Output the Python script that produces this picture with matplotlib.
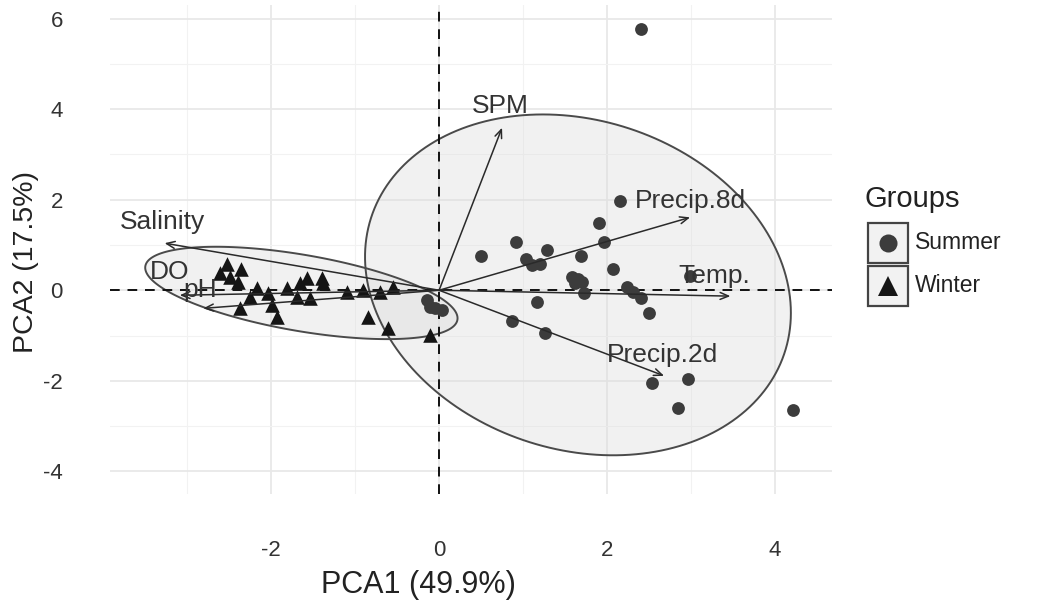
import numpy as np
import matplotlib
matplotlib.use("Agg")
import matplotlib.pyplot as plt
from matplotlib.patches import Polygon, Rectangle
from matplotlib.lines import Line2D

plt.rcParams['font.family'] = ['Liberation Sans', 'DejaVu Sans']

# ---------------- data ----------------
summer_x = [2.40, 2.16, 1.91, 0.92, 1.97, 0.50, 1.29, 1.03, 1.11, 1.20, 1.69, 2.07, 2.99,
            1.58, 1.65, 1.70, 1.62, 1.73, 2.24, 2.31, 2.41, 2.50, 1.17, 0.87, 1.26,
            -0.14, -0.11, -0.05, 0.04, 2.53, 2.97, 2.84, 4.22]
summer_y = [5.77, 1.98, 1.48, 1.06, 1.06, 0.75, 0.90, 0.70, 0.55, 0.57, 0.75, 0.46, 0.31,
            0.30, 0.25, 0.18, 0.15, -0.07, 0.07, -0.04, -0.18, -0.51, -0.26, -0.68, -0.95,
            -0.22, -0.37, -0.40, -0.44, -2.05, -1.96, -2.60, -2.64]

winter_x = [-2.53, -2.36, -2.61, -2.49, -2.40, -2.17, -2.25, -2.04, -2.37, -1.99, -1.93,
            -1.81, -1.66, -1.57, -1.39, -1.38, -1.69, -1.54, -1.10, -0.91, -0.70, -0.55,
            -0.85, -0.61, -0.11]
winter_y = [0.59, 0.48, 0.37, 0.29, 0.18, 0.04, -0.15, -0.07, -0.40, -0.33, -0.59,
            0.04, 0.15, 0.26, 0.26, 0.15, -0.15, -0.18, -0.04, 0.00, -0.04, 0.07,
            -0.59, -0.84, -0.99]

var_names = ['SPM', 'Precip.8d', 'Temp.', 'Precip.2d', 'Salinity', 'DO', 'pH']
var_x = [0.75, 2.99, 3.47, 2.68, -3.27, -3.09, -2.81]
var_y = [3.59, 1.61, -0.13, -1.89, 1.04, -0.11, -0.40]
lab_x = [0.73, 2.99, 3.28, 2.66, -3.29, -3.21, -2.85]
lab_y = [4.07, 1.98, 0.31, -1.43, 1.50, 0.40, 0.00]

groups = ['Summer', 'Winter']
x_ticks = [-2, 0, 2, 4]
y_ticks = [-4, -2, 0, 2, 4, 6]


def norm_ellipse(x, y, level=0.95, npts=200):
    x = np.asarray(x); y = np.asarray(y)
    n = len(x)
    cov = np.cov(x, y)
    c = np.array([x.mean(), y.mean()])
    d = n - 1
    fq = d / 2.0 * ((1 - level) ** (-2.0 / d) - 1)  # F(2, d) quantile
    r = np.sqrt(2 * fq)
    L = np.linalg.cholesky(cov)
    t = np.linspace(0, 2 * np.pi, npts)
    circ = np.vstack([np.cos(t), np.sin(t)])
    pts = c[:, None] + r * (L @ circ)
    return pts.T


W, H = 1051, 610
fig = plt.figure(figsize=(W / 100, H / 100), dpi=100)
fig.patch.set_facecolor('white')
ax = fig.add_axes([110 / W, 1 - 494 / H, 722 / W, 489 / H])
ax.set_xlim(-3.92, 4.68)
ax.set_ylim(-4.5, 6.3)
ax.set_facecolor('white')
for s in ax.spines.values():
    s.set_visible(False)

ax.set_xticks(x_ticks)
ax.set_xticklabels([str(v) for v in x_ticks])
ax.set_yticks(y_ticks)
ax.set_yticklabels([str(v) for v in y_ticks])
ax.set_xticks([-3, -1, 1, 3], minor=True)
ax.set_yticks([-3, -1, 1, 3, 5], minor=True)
ax.grid(True, which='major', color='#e8e8e8', lw=1.3)
ax.grid(True, which='minor', color='#f2f2f2', lw=0.8)
ax.set_axisbelow(True)
ax.tick_params(which='both', length=0)
ax.tick_params(axis='x', pad=33, labelsize=16, labelcolor='#333333')
ax.tick_params(axis='y', pad=34, labelsize=16, labelcolor='#333333')

# ellipses
for gx, gy in [(summer_x, summer_y), (winter_x, winter_y)]:
    pts = norm_ellipse(gx, gy)
    ax.add_patch(Polygon(pts, closed=True, facecolor='#d9d9d9', alpha=0.35,
                         edgecolor='none', zorder=1))
    ax.add_patch(Polygon(pts, closed=True, facecolor='none',
                         edgecolor='#4a4a4a', lw=1.4, zorder=2))

# reference lines
ax.axhline(0, color='#111111', lw=1.4, ls=(0, (5, 4)), zorder=2.5)
ax.axvline(0, color='#111111', lw=1.4, ls=(0, (5, 4)), zorder=2.5)

# points
ax.scatter(summer_x, summer_y, s=85, marker='o', color='#3c3c3c', zorder=3, linewidths=0)
ax.scatter(winter_x, winter_y, s=110, marker='^', color='#151515', zorder=3, linewidths=0)

# variable arrows
for nm, vx, vy, lx, ly in zip(var_names, var_x, var_y, lab_x, lab_y):
    ax.annotate('', xy=(vx, vy), xytext=(0, 0),
                arrowprops=dict(arrowstyle='->,head_length=0.6,head_width=0.25',
                                color='#2a2a2a', lw=1.1, shrinkA=0, shrinkB=0),
                zorder=4)
    ax.text(lx, ly, nm, ha='center', va='center', fontsize=19, color='#333333', zorder=5)

# axis titles
fig.text(418 / W, 1 - 585 / H, 'PCA1 (49.9%)', ha='center', va='center',
         fontsize=22, color='#222222')
fig.text(26 / W, 1 - 262 / H, 'PCA2 (17.5%)', ha='center', va='center',
         fontsize=20.5, color='#222222', rotation=90)

# legend (manual)
fig.text(864 / W, 1 - 199 / H, 'Groups', ha='left', va='center', fontsize=21, color='#222222')
keys = [(243, 'o', '#3c3c3c', 13, 'Summer'), (286, '^', '#151515', 14, 'Winter')]
for yc, mk, col, ms, lab in keys:
    fig.add_artist(Rectangle((868 / W, 1 - (yc + 20) / H), 40 / W, 40 / H,
                             transform=fig.transFigure, facecolor='#f2f2f2',
                             edgecolor='#444444', lw=1.6))
    fig.add_artist(Line2D([888 / W], [1 - yc / H], marker=mk, markersize=ms,
                          color=col, markeredgewidth=0, transform=fig.transFigure))
    fig.text(915 / W, 1 - yc / H, lab, ha='left', va='center', fontsize=16.5, color='#222222')

fig.savefig('out.png', dpi=100, facecolor='white')
